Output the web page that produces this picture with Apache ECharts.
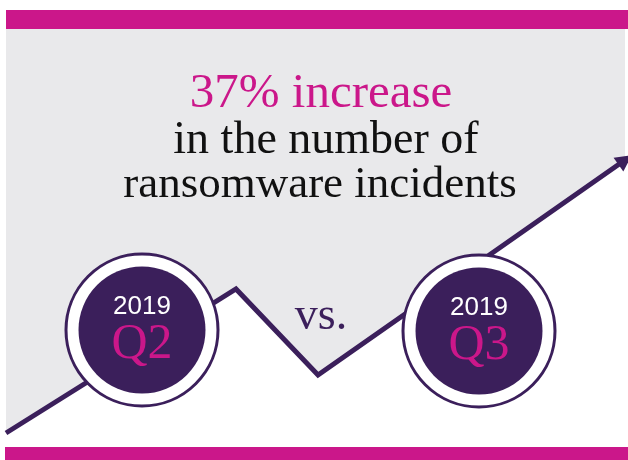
<!DOCTYPE html>
<html>
<head>
<meta charset="utf-8">
<script src="https://cdn.jsdelivr.net/npm/echarts@6/dist/echarts.min.js"></script>
<style>html,body{margin:0;padding:0;background:#fff;}#main{width:628px;height:460px;}</style>
</head>
<body>
<div id="main"></div>
<script>
// ---- data ----
const trendX = [0, 230, 312, 619];
const trendY = [14, 158, 72, 287];
const quarterYears = ['2019', '2019'];
const quarterNames = ['Q2', 'Q3'];
const quarterX = [136, 473];
const quarterY = [117, 116];
const headline = '37% increase';
const subLines = ['in the number of', 'ransomware incidents'];
const versusText = 'vs.';

// ---- styles ----
const MAGENTA = '#CB178A';
const PURPLE = '#3B1F5B';
const GRAY = '#E9E9EB';

const lastIdx = trendX.length - 1;
const lineData = trendX.map((x, i) => [x, trendY[i]]);
const quarterData = quarterX.map((x, i) => ({ value: [x, quarterY[i]], name: quarterNames[i], year: quarterYears[i] }));

const chart = echarts.init(document.getElementById('main'), null, { renderer: 'canvas' });
chart.setOption({
  animation: false,
  backgroundColor: '#fff',
  grid: { left: 6, right: 0, top: 29, bottom: 13 },
  xAxis: { type: 'value', min: 0, max: 622, show: false },
  yAxis: { type: 'value', min: 0, max: 418, show: false },
  series: [
    {
      type: 'line',
      data: lineData,
      z: 2,
      clip: false,
      symbol: (v, p) => p.dataIndex === lastIdx ? 'triangle' : 'none',
      symbolSize: (v, p) => p.dataIndex === lastIdx ? [17, 16] : 0,
      symbolRotate: (v, p) => p.dataIndex === lastIdx ? -55 : 0,
      showSymbol: true,
      itemStyle: { color: PURPLE, opacity: 1 },
      lineStyle: { color: PURPLE, width: 5, join: 'miter', cap: 'butt' },
      areaStyle: { origin: 'end', color: GRAY, opacity: 1 },
      silent: true
    },
    {
      type: 'scatter',
      data: quarterData,
      z: 3,
      symbol: 'circle',
      symbolSize: 152,
      itemStyle: { color: '#fff', borderColor: PURPLE, borderWidth: 3, opacity: 1 },
      silent: true
    },
    {
      type: 'scatter',
      data: quarterData,
      z: 4,
      symbol: 'circle',
      symbolSize: 127,
      itemStyle: { color: PURPLE, opacity: 1 },
      label: {
        show: true,
        position: 'inside',
        formatter: (p) => '{y|' + p.data.year + '}\n{q|' + p.data.name + '}',
        rich: {
          y: { fontFamily: 'Liberation Sans', fontSize: 26, color: '#fff', lineHeight: 30, align: 'center' },
          q: { fontFamily: 'Liberation Serif', fontSize: 50, color: MAGENTA, lineHeight: 46, align: 'center' }
        }
      },
      silent: true
    }
  ],
  graphic: [
    { type: 'rect', shape: { x: 6, y: 10, width: 622, height: 19 }, style: { fill: MAGENTA }, z: 10 },
    { type: 'rect', shape: { x: 5, y: 447, width: 623, height: 13 }, style: { fill: MAGENTA }, z: 10 },
    { type: 'text', x: 321, y: 94, z: 10, style: { text: headline, fill: MAGENTA, font: '49px "Liberation Serif"', align: 'center', verticalAlign: 'middle' } },
    { type: 'text', x: 326, y: 141, z: 10, style: { text: subLines[0], fill: '#111', font: '46px "Liberation Serif"', align: 'center', verticalAlign: 'middle' } },
    { type: 'text', x: 320, y: 185, z: 10, style: { text: subLines[1], fill: '#111', font: '45px "Liberation Serif"', align: 'center', verticalAlign: 'middle' } },
    { type: 'text', x: 321, y: 317, z: 10, style: { text: versusText, fill: PURPLE, font: '46px "Liberation Serif"', align: 'center', verticalAlign: 'middle' } }
  ]
});
</script>
</body>
</html>
